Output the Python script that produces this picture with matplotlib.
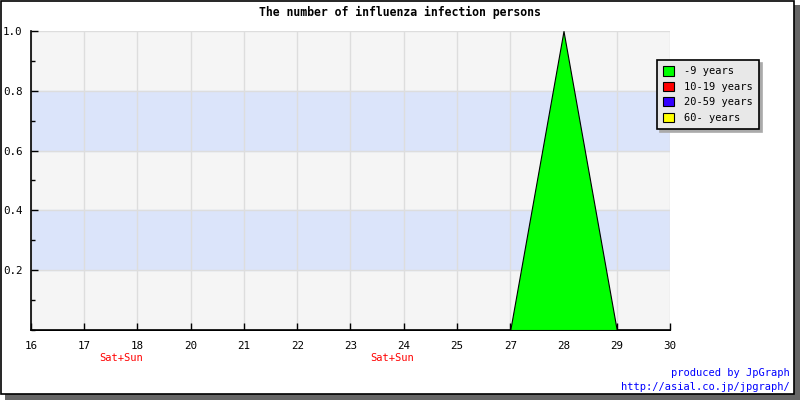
import numpy as np
import matplotlib
matplotlib.use('Agg')
import matplotlib.pyplot as plt
from matplotlib.patches import Patch, Rectangle
from matplotlib.ticker import MultipleLocator, FormatStrFormatter

plt.rcParams['font.family'] = ['DejaVu Sans Mono']

# 日付ラベルと年齢層ごとの人数
days = ['16', '17', '18', '20', '21', '22', '23', '24', '25', '27', '28', '29', '30']
age_0_9 = [0, 0, 0, 0, 0, 0, 0, 0, 0, 0, 1, 0, 0]
age_10_19 = [0, 0, 0, 0, 0, 0, 0, 0, 0, 0, 0, 0, 0]
age_20_59 = [0, 0, 0, 0, 0, 0, 0, 0, 0, 0, 0, 0, 0]
age_60 = [0, 0, 0, 0, 0, 0, 0, 0, 0, 0, 0, 0, 0]
series_names = ['-9 years', '10-19 years', '20-59 years', '60- years']
series_colors = ['#00ff00', '#ff0000', '#3300ff', '#ffff00']
weekend_pos = [1.69, 6.78]

fig = plt.figure(figsize=(8, 4), dpi=100)

# 外枠と影
fig.patches.append(Rectangle((5 / 800, 0), 795 / 800, 395 / 400, transform=fig.transFigure,
                             facecolor='#666666', edgecolor='none', zorder=-10))
fig.patches.append(Rectangle((0.5 / 800, 6.5 / 400), 793 / 800, 393 / 400, transform=fig.transFigure,
                             facecolor='white', edgecolor='black', linewidth=1.2, zorder=-9))

ax = fig.add_axes([31 / 800, 70 / 400, 639 / 800, 299 / 400])
ax.set_facecolor('#f5f5f5')
ax.axhspan(0.2, 0.4, color='#dbe4fa', zorder=0)
ax.axhspan(0.6, 0.8, color='#dbe4fa', zorder=0)

x = np.arange(len(days))
base = np.zeros(len(days))
handles = []
for vals, name, col in zip([age_0_9, age_10_19, age_20_59, age_60], series_names, series_colors):
    top = base + np.array(vals)
    if np.any(top > base):
        ax.fill_between(x, base, top, facecolor=col, edgecolor='black', linewidth=0.8, zorder=3)
    base = top
    handles.append(Patch(facecolor=col, edgecolor='black', linewidth=0.8, label=name))

ax.set_xlim(0, len(days) - 1)
ax.set_ylim(0, 1.0)
ax.set_xticks(x)
ax.set_xticklabels(days)
ax.yaxis.set_major_locator(MultipleLocator(0.2))
ax.yaxis.set_minor_locator(MultipleLocator(0.1))
ax.yaxis.set_major_formatter(FormatStrFormatter('%.1f'))
ax.set_yticks([0.2, 0.4, 0.6, 0.8, 1.0])
ax.grid(True, color='#dddddd', linewidth=1, zorder=1)
ax.set_axisbelow(True)
ax.tick_params(axis='both', direction='in', labelsize=7.8, length=5, width=1)
ax.tick_params(axis='x', pad=8)
ax.tick_params(axis='y', pad=6)
ax.tick_params(axis='y', which='minor', direction='in', length=3, width=1)
ax.spines['top'].set_visible(False)
ax.spines['right'].set_visible(False)
ax.spines['left'].set_linewidth(1.2)
ax.spines['bottom'].set_linewidth(1.2)

for p in weekend_pos:
    ax.text(p, -0.095, 'Sat+Sun', color='red', fontsize=7.5, ha='center', va='center',
            transform=ax.get_xaxis_transform())

fig.text(0.5, 1 - 12 / 400, 'The number of influenza infection persons', ha='center', va='center',
         fontsize=8.3, fontweight='bold')

leg = ax.legend(handles=handles, loc='upper left', bbox_to_anchor=(657 / 800, 1 - 60 / 400),
                bbox_transform=fig.transFigure, fontsize=7.5, frameon=True, fancybox=False,
                shadow={'color': '#aaaaaa', 'alpha': 1}, facecolor='#e8e8e8', edgecolor='black',
                framealpha=1, handlelength=1.0, handleheight=1.0, labelspacing=0.5,
                handletextpad=1.0, borderpad=0.6, borderaxespad=0)
leg.get_frame().set_linewidth(1.2)
leg.set_zorder(5)

fig.text(790 / 800, 1 - 373 / 400, 'produced by JpGraph', color='#0000ff', fontsize=7.5,
         ha='right', va='center')
fig.text(790 / 800, 1 - 387 / 400, 'http://asial.co.jp/jpgraph/', color='#0000ff', fontsize=7.5,
         ha='right', va='center')

fig.savefig('out.png', dpi=100)
